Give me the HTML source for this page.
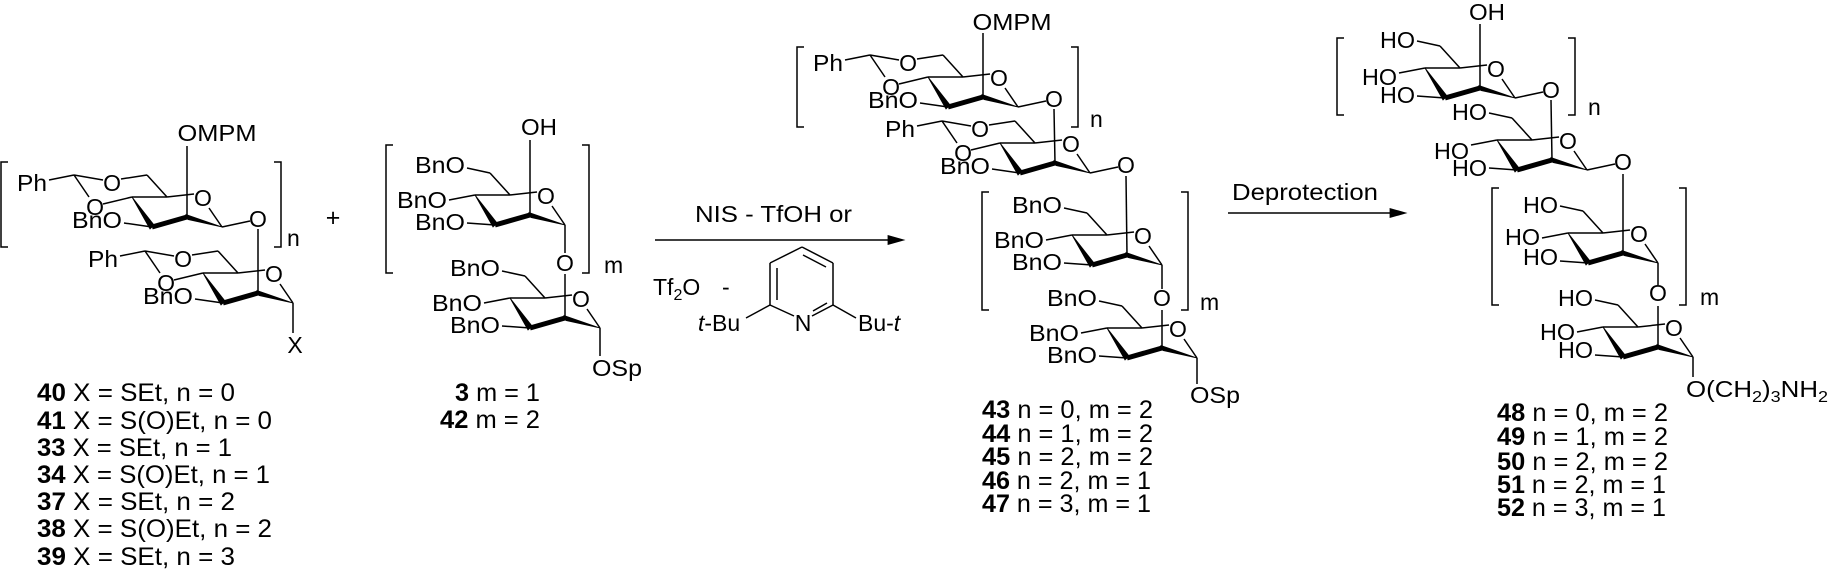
<!DOCTYPE html>
<html><head><meta charset="utf-8"><style>
html,body{margin:0;padding:0;background:#fff;}
svg{display:block;}
text{font-family:"Liberation Sans",Arial,sans-serif;font-size:23px;fill:#000;}
.l{font-size:25px;}
line,path,polyline{stroke:#000;stroke-width:1.5;fill:none;}
polygon{fill:#000;stroke:#000;stroke-width:0.8;}
.b{stroke-width:5;}
</style></head><body>
<svg width="1831" height="578" viewBox="0 0 1831 578" xmlns="http://www.w3.org/2000/svg">

<!-- ===== Compound 40 ===== -->
<path d="M8,162 H1 V247 H8"/>
<path d="M274,162 H281 V247 H274"/>
<text x="287" y="246">n</text>
<line x1="187" y1="217" x2="187" y2="146"/>
<text x="217" y="141" text-anchor="middle" textLength="79" lengthAdjust="spacingAndGlyphs">OMPM</text>
<g transform="translate(187,217)">
 <line x1="-55" y1="-20" x2="-20" y2="-20"/><line x1="-20" y1="-20" x2="7" y2="-23"/><line x1="22" y1="-9" x2="35" y2="10"/>
 <polygon points="-55,-20 -37,12 -33,8"/><line class="b" x1="-35" y1="10" x2="0" y2="0"/><polygon points="-1,-2.5 1,2.5 35,10"/>
 <line x1="-20" y1="-20" x2="-40" y2="-42"/><text x="16" y="-11" text-anchor="middle">O</text>
 <line x1="-40" y1="-42" x2="-66" y2="-38"/><text x="-75" y="-26" text-anchor="middle">O</text>
 <line x1="-55" y1="-20" x2="-84" y2="-13"/><text x="-92" y="-2" text-anchor="middle">O</text>
 <line x1="-84" y1="-37" x2="-113" y2="-42"/><line x1="-113" y1="-42" x2="-98" y2="-20"/><line x1="-113" y1="-42" x2="-138" y2="-37"/>
 <text x="-140" y="-26" text-anchor="end" textLength="30" lengthAdjust="spacingAndGlyphs">Ph</text>
 <line x1="-35" y1="10" x2="-63" y2="6"/><text x="-65" y="11" text-anchor="end" textLength="50" lengthAdjust="spacingAndGlyphs">BnO</text>
 <line x1="35" y1="10" x2="63" y2="4"/><text x="71" y="10" text-anchor="middle">O</text>
</g>
<line x1="258" y1="229" x2="258" y2="293"/>
<g transform="translate(258,293)">
 <line x1="-55" y1="-20" x2="-20" y2="-20"/><line x1="-20" y1="-20" x2="7" y2="-23"/><line x1="22" y1="-9" x2="35" y2="10"/>
 <polygon points="-55,-20 -37,12 -33,8"/><line class="b" x1="-35" y1="10" x2="0" y2="0"/><polygon points="-1,-2.5 1,2.5 35,10"/>
 <line x1="-20" y1="-20" x2="-40" y2="-42"/><text x="16" y="-11" text-anchor="middle">O</text>
 <line x1="-40" y1="-42" x2="-66" y2="-38"/><text x="-75" y="-26" text-anchor="middle">O</text>
 <line x1="-55" y1="-20" x2="-84" y2="-13"/><text x="-92" y="-2" text-anchor="middle">O</text>
 <line x1="-84" y1="-37" x2="-113" y2="-42"/><line x1="-113" y1="-42" x2="-98" y2="-20"/><line x1="-113" y1="-42" x2="-138" y2="-37"/>
 <text x="-140" y="-26" text-anchor="end" textLength="30" lengthAdjust="spacingAndGlyphs">Ph</text>
 <line x1="-35" y1="10" x2="-63" y2="6"/><text x="-65" y="11" text-anchor="end" textLength="50" lengthAdjust="spacingAndGlyphs">BnO</text>
 <line x1="35" y1="10" x2="35" y2="40"/><text x="37" y="60" text-anchor="middle">X</text>
</g>
<text x="333" y="226" text-anchor="middle" style="font-size:25px">+</text>

<text class="l" x="37" y="401" textLength="198" lengthAdjust="spacingAndGlyphs"><tspan font-weight="bold">40</tspan> X = SEt, n = 0</text>
<text class="l" x="37" y="429" textLength="235" lengthAdjust="spacingAndGlyphs"><tspan font-weight="bold">41</tspan> X = S(O)Et, n = 0</text>
<text class="l" x="37" y="456" textLength="195" lengthAdjust="spacingAndGlyphs"><tspan font-weight="bold">33</tspan> X = SEt, n = 1</text>
<text class="l" x="37" y="483" textLength="233" lengthAdjust="spacingAndGlyphs"><tspan font-weight="bold">34</tspan> X = S(O)Et, n = 1</text>
<text class="l" x="37" y="510" textLength="198" lengthAdjust="spacingAndGlyphs"><tspan font-weight="bold">37</tspan> X = SEt, n = 2</text>
<text class="l" x="37" y="537" textLength="235" lengthAdjust="spacingAndGlyphs"><tspan font-weight="bold">38</tspan> X = S(O)Et, n = 2</text>
<text class="l" x="37" y="565" textLength="198" lengthAdjust="spacingAndGlyphs"><tspan font-weight="bold">39</tspan> X = SEt, n = 3</text>

<!-- ===== Compound 3 / 42 ===== -->
<path d="M393,145 H386 V273 H393"/>
<path d="M582,145 H589 V273 H582"/>
<text x="604" y="273">m</text>
<line x1="530" y1="215" x2="530" y2="140"/>
<text x="539" y="135" text-anchor="middle" textLength="36" lengthAdjust="spacingAndGlyphs">OH</text>
<g transform="translate(530,215)">
 <line x1="-55" y1="-20" x2="-20" y2="-20"/><line x1="-20" y1="-20" x2="7" y2="-23"/><line x1="22" y1="-9" x2="35" y2="10"/>
 <polygon points="-55,-20 -37,12 -33,8"/><line class="b" x1="-35" y1="10" x2="0" y2="0"/><polygon points="-1,-2.5 1,2.5 35,10"/>
 <line x1="-20" y1="-20" x2="-40" y2="-42"/><text x="16" y="-11" text-anchor="middle">O</text>
 <line x1="-40" y1="-42" x2="-63" y2="-47"/><text x="-65" y="-42" text-anchor="end" textLength="50" lengthAdjust="spacingAndGlyphs">BnO</text>
 <line x1="-55" y1="-20" x2="-81" y2="-15"/><text x="-83" y="-7" text-anchor="end" textLength="50" lengthAdjust="spacingAndGlyphs">BnO</text>
 <line x1="-35" y1="10" x2="-63" y2="8"/><text x="-65" y="15" text-anchor="end" textLength="50" lengthAdjust="spacingAndGlyphs">BnO</text>
 <line x1="35" y1="10" x2="35" y2="38"/><text x="35" y="56" text-anchor="middle">O</text>
</g>
<line x1="565" y1="274" x2="565" y2="318"/>
<g transform="translate(565,318)">
 <line x1="-55" y1="-20" x2="-20" y2="-20"/><line x1="-20" y1="-20" x2="7" y2="-23"/><line x1="22" y1="-9" x2="35" y2="10"/>
 <polygon points="-55,-20 -37,12 -33,8"/><line class="b" x1="-35" y1="10" x2="0" y2="0"/><polygon points="-1,-2.5 1,2.5 35,10"/>
 <line x1="-20" y1="-20" x2="-40" y2="-42"/><text x="16" y="-11" text-anchor="middle">O</text>
 <line x1="-40" y1="-42" x2="-63" y2="-47"/><text x="-65" y="-42" text-anchor="end" textLength="50" lengthAdjust="spacingAndGlyphs">BnO</text>
 <line x1="-55" y1="-20" x2="-81" y2="-15"/><text x="-83" y="-7" text-anchor="end" textLength="50" lengthAdjust="spacingAndGlyphs">BnO</text>
 <line x1="-35" y1="10" x2="-63" y2="8"/><text x="-65" y="15" text-anchor="end" textLength="50" lengthAdjust="spacingAndGlyphs">BnO</text>
 <line x1="35" y1="10" x2="35" y2="38"/><text x="27" y="58" textLength="50" lengthAdjust="spacingAndGlyphs">OSp</text>
</g>
<text class="l" x="540" y="401" text-anchor="end" textLength="85" lengthAdjust="spacingAndGlyphs"><tspan font-weight="bold">3</tspan> m = 1</text>
<text class="l" x="540" y="428" text-anchor="end" textLength="100" lengthAdjust="spacingAndGlyphs"><tspan font-weight="bold">42</tspan> m = 2</text>

<!-- ===== Arrow 1 ===== -->
<text x="695" y="222" textLength="157" lengthAdjust="spacingAndGlyphs">NIS - TfOH or</text>
<line x1="655" y1="240" x2="893" y2="240"/>
<polygon points="904,240 888,235.5 888,244.5"/>
<text x="653" y="295">Tf<tspan font-size="16" dy="5">2</tspan><tspan dy="-5">O</tspan></text>
<text x="722" y="295">-</text>
<line x1="802" y1="247" x2="833" y2="263"/><line x1="833" y1="263" x2="833" y2="305"/>
<line x1="833" y1="305" x2="812" y2="316"/><line x1="794" y1="316" x2="770" y2="305"/>
<line x1="770" y1="305" x2="770" y2="263"/><line x1="770" y1="263" x2="802" y2="247"/>
<line x1="803" y1="255" x2="826" y2="267"/><line x1="777" y1="268" x2="777" y2="300"/><line x1="813" y1="311" x2="827" y2="303"/>
<text x="803" y="331" text-anchor="middle">N</text>
<line x1="770" y1="305" x2="746" y2="318"/><line x1="833" y1="305" x2="856" y2="318"/>
<text x="698" y="331"><tspan font-style="italic">t</tspan>-Bu</text>
<text x="858" y="331">Bu-<tspan font-style="italic">t</tspan></text>

<!-- ===== Product 43-47 ===== -->
<path d="M804,47 H797 V127 H804"/>
<path d="M1071,47 H1078 V127 H1071"/>
<text x="1090" y="127">n</text>
<line x1="983" y1="97" x2="983" y2="33"/>
<text x="1012" y="30" text-anchor="middle" textLength="79" lengthAdjust="spacingAndGlyphs">OMPM</text>
<g transform="translate(983,97)">
 <line x1="-55" y1="-20" x2="-20" y2="-20"/><line x1="-20" y1="-20" x2="7" y2="-23"/><line x1="22" y1="-9" x2="35" y2="10"/>
 <polygon points="-55,-20 -37,12 -33,8"/><line class="b" x1="-35" y1="10" x2="0" y2="0"/><polygon points="-1,-2.5 1,2.5 35,10"/>
 <line x1="-20" y1="-20" x2="-40" y2="-42"/><text x="16" y="-11" text-anchor="middle">O</text>
 <line x1="-40" y1="-42" x2="-66" y2="-38"/><text x="-75" y="-26" text-anchor="middle">O</text>
 <line x1="-55" y1="-20" x2="-84" y2="-13"/><text x="-92" y="-2" text-anchor="middle">O</text>
 <line x1="-84" y1="-37" x2="-113" y2="-42"/><line x1="-113" y1="-42" x2="-98" y2="-20"/><line x1="-113" y1="-42" x2="-138" y2="-37"/>
 <text x="-140" y="-26" text-anchor="end" textLength="30" lengthAdjust="spacingAndGlyphs">Ph</text>
 <line x1="-35" y1="10" x2="-63" y2="6"/><text x="-65" y="11" text-anchor="end" textLength="50" lengthAdjust="spacingAndGlyphs">BnO</text>
 <line x1="35" y1="10" x2="63" y2="4"/><text x="71" y="10" text-anchor="middle">O</text>
</g>
<line x1="1054" y1="109" x2="1055" y2="163"/>
<g transform="translate(1055,163)">
 <line x1="-55" y1="-20" x2="-20" y2="-20"/><line x1="-20" y1="-20" x2="7" y2="-23"/><line x1="22" y1="-9" x2="35" y2="10"/>
 <polygon points="-55,-20 -37,12 -33,8"/><line class="b" x1="-35" y1="10" x2="0" y2="0"/><polygon points="-1,-2.5 1,2.5 35,10"/>
 <line x1="-20" y1="-20" x2="-40" y2="-42"/><text x="16" y="-11" text-anchor="middle">O</text>
 <line x1="-40" y1="-42" x2="-66" y2="-38"/><text x="-75" y="-26" text-anchor="middle">O</text>
 <line x1="-55" y1="-20" x2="-84" y2="-13"/><text x="-92" y="-2" text-anchor="middle">O</text>
 <line x1="-84" y1="-37" x2="-113" y2="-42"/><line x1="-113" y1="-42" x2="-98" y2="-20"/><line x1="-113" y1="-42" x2="-138" y2="-37"/>
 <text x="-140" y="-26" text-anchor="end" textLength="30" lengthAdjust="spacingAndGlyphs">Ph</text>
 <line x1="-35" y1="10" x2="-63" y2="6"/><text x="-65" y="11" text-anchor="end" textLength="50" lengthAdjust="spacingAndGlyphs">BnO</text>
 <line x1="35" y1="10" x2="63" y2="4"/><text x="71" y="10" text-anchor="middle">O</text>
</g>
<path d="M989,192 H982 V310 H989"/>
<path d="M1181,192 H1188 V310 H1181"/>
<text x="1200" y="310">m</text>
<line x1="1126" y1="176" x2="1127" y2="255"/>
<g transform="translate(1127,255)">
 <line x1="-55" y1="-20" x2="-20" y2="-20"/><line x1="-20" y1="-20" x2="7" y2="-23"/><line x1="22" y1="-9" x2="35" y2="10"/>
 <polygon points="-55,-20 -37,12 -33,8"/><line class="b" x1="-35" y1="10" x2="0" y2="0"/><polygon points="-1,-2.5 1,2.5 35,10"/>
 <line x1="-20" y1="-20" x2="-40" y2="-42"/><text x="16" y="-11" text-anchor="middle">O</text>
 <line x1="-40" y1="-42" x2="-63" y2="-47"/><text x="-65" y="-42" text-anchor="end" textLength="50" lengthAdjust="spacingAndGlyphs">BnO</text>
 <line x1="-55" y1="-20" x2="-81" y2="-15"/><text x="-83" y="-7" text-anchor="end" textLength="50" lengthAdjust="spacingAndGlyphs">BnO</text>
 <line x1="-35" y1="10" x2="-63" y2="8"/><text x="-65" y="15" text-anchor="end" textLength="50" lengthAdjust="spacingAndGlyphs">BnO</text>
 <line x1="35" y1="10" x2="35" y2="34"/><text x="35" y="51" text-anchor="middle">O</text>
</g>
<line x1="1162" y1="310" x2="1162" y2="348"/>
<g transform="translate(1162,348)">
 <line x1="-55" y1="-20" x2="-20" y2="-20"/><line x1="-20" y1="-20" x2="7" y2="-23"/><line x1="22" y1="-9" x2="35" y2="10"/>
 <polygon points="-55,-20 -37,12 -33,8"/><line class="b" x1="-35" y1="10" x2="0" y2="0"/><polygon points="-1,-2.5 1,2.5 35,10"/>
 <line x1="-20" y1="-20" x2="-40" y2="-42"/><text x="16" y="-11" text-anchor="middle">O</text>
 <line x1="-40" y1="-42" x2="-63" y2="-47"/><text x="-65" y="-42" text-anchor="end" textLength="50" lengthAdjust="spacingAndGlyphs">BnO</text>
 <line x1="-55" y1="-20" x2="-81" y2="-15"/><text x="-83" y="-7" text-anchor="end" textLength="50" lengthAdjust="spacingAndGlyphs">BnO</text>
 <line x1="-35" y1="10" x2="-63" y2="8"/><text x="-65" y="15" text-anchor="end" textLength="50" lengthAdjust="spacingAndGlyphs">BnO</text>
 <line x1="35" y1="10" x2="35" y2="36"/><text x="28" y="55" textLength="50" lengthAdjust="spacingAndGlyphs">OSp</text>
</g>
<text class="l" x="982" y="418" textLength="171" lengthAdjust="spacingAndGlyphs"><tspan font-weight="bold">43</tspan> n = 0, m = 2</text>
<text class="l" x="982" y="442" textLength="171" lengthAdjust="spacingAndGlyphs"><tspan font-weight="bold">44</tspan> n = 1, m = 2</text>
<text class="l" x="982" y="465" textLength="171" lengthAdjust="spacingAndGlyphs"><tspan font-weight="bold">45</tspan> n = 2, m = 2</text>
<text class="l" x="982" y="489" textLength="169" lengthAdjust="spacingAndGlyphs"><tspan font-weight="bold">46</tspan> n = 2, m = 1</text>
<text class="l" x="982" y="512" textLength="169" lengthAdjust="spacingAndGlyphs"><tspan font-weight="bold">47</tspan> n = 3, m = 1</text>

<!-- ===== Arrow 2 ===== -->
<text x="1232" y="200" textLength="146" lengthAdjust="spacingAndGlyphs">Deprotection</text>
<line x1="1228" y1="213" x2="1395" y2="213"/>
<polygon points="1406,213 1390,208.5 1390,217.5"/>

<!-- ===== Product 48-52 ===== -->
<path d="M1344,38 H1337 V115 H1344"/>
<path d="M1568,38 H1575 V115 H1568"/>
<text x="1588" y="115">n</text>
<line x1="1480" y1="88" x2="1480" y2="24"/>
<text x="1487" y="20" text-anchor="middle" textLength="36" lengthAdjust="spacingAndGlyphs">OH</text>
<g transform="translate(1480,88)">
 <line x1="-55" y1="-20" x2="-20" y2="-20"/><line x1="-20" y1="-20" x2="7" y2="-23"/><line x1="22" y1="-9" x2="35" y2="10"/>
 <polygon points="-55,-20 -37,12 -33,8"/><line class="b" x1="-35" y1="10" x2="0" y2="0"/><polygon points="-1,-2.5 1,2.5 35,10"/>
 <line x1="-20" y1="-20" x2="-40" y2="-42"/><text x="16" y="-11" text-anchor="middle">O</text>
 <line x1="-40" y1="-42" x2="-63" y2="-47"/><text x="-65" y="-40" text-anchor="end" textLength="35" lengthAdjust="spacingAndGlyphs">HO</text>
 <line x1="-55" y1="-20" x2="-81" y2="-15"/><text x="-83" y="-3" text-anchor="end" textLength="35" lengthAdjust="spacingAndGlyphs">HO</text>
 <line x1="-35" y1="10" x2="-63" y2="8"/><text x="-65" y="15" text-anchor="end" textLength="35" lengthAdjust="spacingAndGlyphs">HO</text>
 <line x1="35" y1="10" x2="63" y2="4"/><text x="71" y="10" text-anchor="middle">O</text>
</g>
<line x1="1551" y1="100" x2="1552" y2="160"/>
<g transform="translate(1552,160)">
 <line x1="-55" y1="-20" x2="-20" y2="-20"/><line x1="-20" y1="-20" x2="7" y2="-23"/><line x1="22" y1="-9" x2="35" y2="10"/>
 <polygon points="-55,-20 -37,12 -33,8"/><line class="b" x1="-35" y1="10" x2="0" y2="0"/><polygon points="-1,-2.5 1,2.5 35,10"/>
 <line x1="-20" y1="-20" x2="-40" y2="-42"/><text x="16" y="-11" text-anchor="middle">O</text>
 <line x1="-40" y1="-42" x2="-63" y2="-47"/><text x="-65" y="-40" text-anchor="end" textLength="35" lengthAdjust="spacingAndGlyphs">HO</text>
 <line x1="-55" y1="-20" x2="-81" y2="-15"/><text x="-83" y="-1" text-anchor="end" textLength="35" lengthAdjust="spacingAndGlyphs">HO</text>
 <line x1="-35" y1="10" x2="-63" y2="8"/><text x="-65" y="16" text-anchor="end" textLength="35" lengthAdjust="spacingAndGlyphs">HO</text>
 <line x1="35" y1="10" x2="63" y2="4"/><text x="71" y="10" text-anchor="middle">O</text>
</g>
<path d="M1499,188 H1492 V305 H1499"/>
<path d="M1679,188 H1686 V305 H1679"/>
<text x="1700" y="305">m</text>
<line x1="1623" y1="174" x2="1623" y2="253"/>
<g transform="translate(1623,253)">
 <line x1="-55" y1="-20" x2="-20" y2="-20"/><line x1="-20" y1="-20" x2="7" y2="-23"/><line x1="22" y1="-9" x2="35" y2="10"/>
 <polygon points="-55,-20 -37,12 -33,8"/><line class="b" x1="-35" y1="10" x2="0" y2="0"/><polygon points="-1,-2.5 1,2.5 35,10"/>
 <line x1="-20" y1="-20" x2="-40" y2="-42"/><text x="16" y="-11" text-anchor="middle">O</text>
 <line x1="-40" y1="-42" x2="-63" y2="-47"/><text x="-65" y="-40" text-anchor="end" textLength="35" lengthAdjust="spacingAndGlyphs">HO</text>
 <line x1="-55" y1="-20" x2="-81" y2="-15"/><text x="-83" y="-8" text-anchor="end" textLength="35" lengthAdjust="spacingAndGlyphs">HO</text>
 <line x1="-35" y1="10" x2="-63" y2="8"/><text x="-65" y="12" text-anchor="end" textLength="35" lengthAdjust="spacingAndGlyphs">HO</text>
 <line x1="35" y1="10" x2="35" y2="32"/><text x="35" y="48" text-anchor="middle">O</text>
</g>
<line x1="1658" y1="306" x2="1658" y2="347"/>
<g transform="translate(1658,347)">
 <line x1="-55" y1="-20" x2="-20" y2="-20"/><line x1="-20" y1="-20" x2="7" y2="-23"/><line x1="22" y1="-9" x2="35" y2="10"/>
 <polygon points="-55,-20 -37,12 -33,8"/><line class="b" x1="-35" y1="10" x2="0" y2="0"/><polygon points="-1,-2.5 1,2.5 35,10"/>
 <line x1="-20" y1="-20" x2="-40" y2="-42"/><text x="16" y="-11" text-anchor="middle">O</text>
 <line x1="-40" y1="-42" x2="-63" y2="-47"/><text x="-65" y="-41" text-anchor="end" textLength="35" lengthAdjust="spacingAndGlyphs">HO</text>
 <line x1="-55" y1="-20" x2="-81" y2="-15"/><text x="-83" y="-7" text-anchor="end" textLength="35" lengthAdjust="spacingAndGlyphs">HO</text>
 <line x1="-35" y1="10" x2="-63" y2="8"/><text x="-65" y="11" text-anchor="end" textLength="35" lengthAdjust="spacingAndGlyphs">HO</text>
 <line x1="35" y1="10" x2="35" y2="30"/>
</g>
<text x="1686" y="397" textLength="142" lengthAdjust="spacingAndGlyphs">O(CH<tspan font-size="16" dy="5">2</tspan><tspan dy="-5">)</tspan><tspan font-size="16" dy="5">3</tspan><tspan dy="-5">NH</tspan><tspan font-size="16" dy="5">2</tspan></text>
<text class="l" x="1497" y="421" textLength="171" lengthAdjust="spacingAndGlyphs"><tspan font-weight="bold">48</tspan> n = 0, m = 2</text>
<text class="l" x="1497" y="445" textLength="171" lengthAdjust="spacingAndGlyphs"><tspan font-weight="bold">49</tspan> n = 1, m = 2</text>
<text class="l" x="1497" y="470" textLength="171" lengthAdjust="spacingAndGlyphs"><tspan font-weight="bold">50</tspan> n = 2, m = 2</text>
<text class="l" x="1497" y="493" textLength="169" lengthAdjust="spacingAndGlyphs"><tspan font-weight="bold">51</tspan> n = 2, m = 1</text>
<text class="l" x="1497" y="516" textLength="169" lengthAdjust="spacingAndGlyphs"><tspan font-weight="bold">52</tspan> n = 3, m = 1</text>
</svg>
</body></html>
